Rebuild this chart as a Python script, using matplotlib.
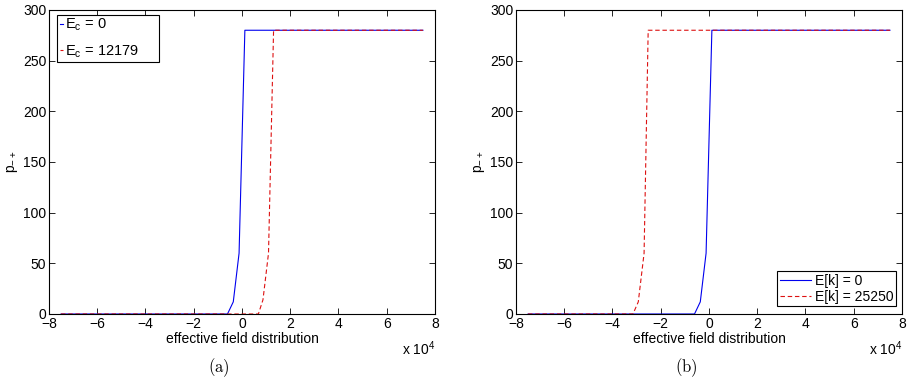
import matplotlib
matplotlib.use('Agg')
import matplotlib.pyplot as plt
from matplotlib.ticker import FuncFormatter

plt.rcParams['font.family'] = ['Liberation Sans', 'DejaVu Sans']
plt.rcParams['mathtext.fontset'] = 'custom'
plt.rcParams['mathtext.rm'] = 'Liberation Sans'
plt.rcParams['mathtext.it'] = 'Liberation Sans'

# breakpoints of the curves (x in field units, y = p_-+)
x_blue = [-75000, -6000, -3600, -1200, 1200, 75000]
y_blue = [0, 0, 12, 60, 280, 280]

x_red_a = [-75000, 6800, 8700, 11000, 13100, 75000]
y_red_a = [0, 0, 14, 60, 280, 280]

x_red_b = [-75000, -31500, -29300, -26900, -25200, 75000]
y_red_b = [0, 0, 12, 60, 280, 280]

labels_a = [r'E$_\mathregular{c}$ = 0', r'E$_\mathregular{c}$ = 12179']
labels_b = ['E[k] = 0', 'E[k] = 25250']

xticks = [-80000, -60000, -40000, -20000, 0, 20000, 40000, 60000, 80000]
yticks = [0, 50, 100, 150, 200, 250, 300]

fig = plt.figure(figsize=(9.1, 3.84), dpi=100)
ax_a = fig.add_axes([0.0538, 0.1823, 0.4242, 0.7917])
ax_b = fig.add_axes([0.567, 0.1823, 0.4242, 0.7917])

def style(ax, tag):
    ax.set_xlim(-80000, 80000)
    ax.set_ylim(0, 300)
    ax.set_xticks(xticks)
    ax.set_yticks(yticks)
    ax.xaxis.set_major_formatter(FuncFormatter(lambda v, p: f'{v / 1e4:g}'.replace('-', '\u2212')))
    ax.tick_params(direction='in', top=True, right=True, length=4, width=0.6,
                   labelsize=10, pad=2)
    for s in ax.spines.values():
        s.set_linewidth(0.8)
    ax.set_xlabel('effective field distribution', fontsize=10, labelpad=1)
    ax.set_ylabel(r'p$_{-+}$', fontsize=10, labelpad=2)
    ax.text(1.0, -0.085, r'x 10$^\mathregular{4}$', transform=ax.transAxes,
            ha='right', va='top', fontsize=10)
    ax.text(0.44, -0.175, r'$\mathrm{(' + tag + ')}$', transform=ax.transAxes,
            ha='center', va='center', fontsize=12, math_fontfamily='cm')

ax_a.plot(x_blue, y_blue, color='#0000ee', lw=0.8, label=labels_a[0])
ax_a.plot(x_red_a, y_red_a, color='#dd1111', lw=0.8, dashes=(4, 2.5), label=labels_a[1])
style(ax_a, 'a')
leg = ax_a.legend(loc='upper left', bbox_to_anchor=(0.022, 0.985), fontsize=10.5,
                  handlelength=0.25, handletextpad=0.15, fancybox=False,
                  edgecolor='black', framealpha=1, borderpad=0.15,
                  labelspacing=0.7, borderaxespad=0)
leg.get_frame().set_linewidth(0.8)
# MATLAB leaves extra room at the right of this legend
for t in leg.get_texts():
    t.set_text(t.get_text() + '\u00a0' * 5)

ax_b.plot(x_blue, y_blue, color='#0000ee', lw=0.8, label=labels_b[0])
ax_b.plot(x_red_b, y_red_b, color='#dd1111', lw=0.8, dashes=(4, 2.5), label=labels_b[1])
style(ax_b, 'b')
leg = ax_b.legend(loc='lower right', bbox_to_anchor=(0.985, 0.025), fontsize=10,
                  handlelength=2.2, handletextpad=0.3, fancybox=False,
                  edgecolor='black', framealpha=1, borderpad=0.2,
                  labelspacing=0.15, borderaxespad=0)
leg.get_frame().set_linewidth(0.8)

fig.savefig('out.png', dpi=100)
